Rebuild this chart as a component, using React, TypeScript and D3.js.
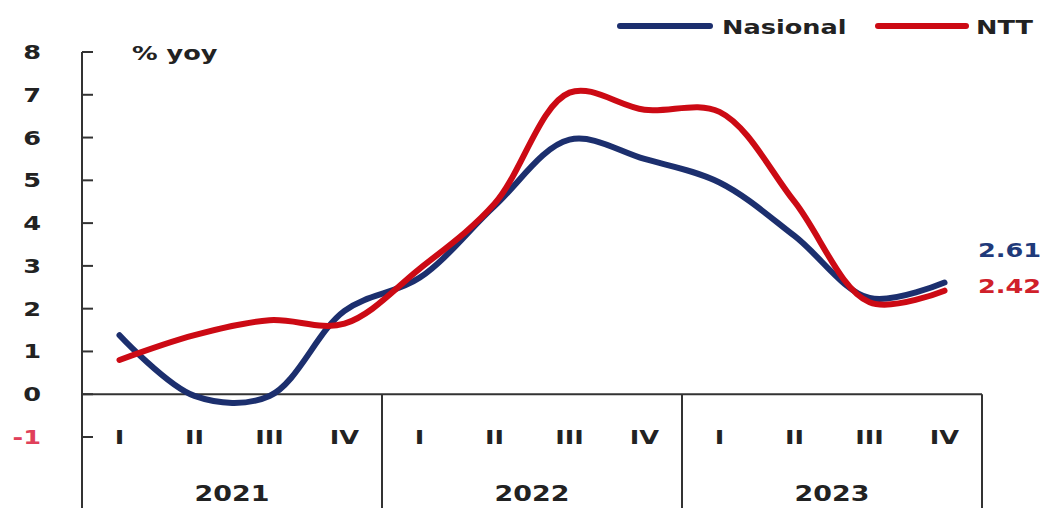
import React from 'react';
import * as d3 from 'd3';

const quarters = ['I', 'II', 'III', 'IV', 'I', 'II', 'III', 'IV', 'I', 'II', 'III', 'IV'];
const years = ['2021', '2022', '2023'];
const nasional = [1.38, -0.04, -0.04, 1.95, 2.72, 4.4, 5.95, 5.5, 4.95, 3.7, 2.25, 2.61];
const ntt = [0.8, 1.38, 1.73, 1.65, 2.93, 4.45, 7.05, 6.65, 6.6, 4.5, 2.15, 2.42];
const yTicks = [-1, 0, 1, 2, 3, 4, 5, 6, 7, 8];

const BLUE = '#1c2f6e';
const RED = '#cc0a14';
const AXIS = '#333';
const FONT = '"DejaVu Sans", Verdana, sans-serif';
const SX = 1.28;

const W = 1046;
const H = 508;

const App: React.FC = () => {
    const idx = d3.range(quarters.length).map(String);
    const x = d3.scaleBand().domain(idx).range([82, 982]);
    const y = d3.scaleLinear().domain([-1, 8]).range([437, 52]);
    const cx = (i: number) => (x(String(i)) || 0) + x.bandwidth() / 2;

    const line = d3.line<number>()
        .x((d, i) => cx(i))
        .y((d) => y(d))
        .curve(d3.curveCatmullRom.alpha(0.5));

    const txt = (
        s: string, tx: number, ty: number, anchor: string, fill = '#222', size = 20
    ) => (
        <text
            key={s + tx + ty}
            transform={`translate(${tx},${ty}) scale(${SX},1)`}
            textAnchor={anchor}
            fontFamily={FONT}
            fontWeight="bold"
            fontSize={size}
            fill={fill}
        >{s}</text>
    );

    const y0 = y(0);

    return (
        <svg width={W} height={H} style={{ position: 'absolute', left: 0, top: 0, background: '#fff' }}>
            {/* y axis */}
            <line x1={82} x2={82} y1={y(8)} y2={H} stroke={AXIS} strokeWidth={2} />
            {yTicks.map((t) => (
                <g key={t}>
                    <line x1={82} x2={93} y1={y(t)} y2={y(t)} stroke={AXIS} strokeWidth={2} />
                    {txt(String(t), 41, y(t) + 7, 'end', t < 0 ? '#e0405a' : '#222')}
                </g>
            ))}
            {txt('% yoy', 132, 60, 'start', '#222', 20)}

            {/* category axis */}
            <line x1={82} x2={982} y1={y0} y2={y0} stroke={AXIS} strokeWidth={2} />
            {[4, 8, 12].map((k) => {
                const xx = (x(String(k - 1)) || 0) + x.bandwidth();
                return <line key={k} x1={xx} x2={xx} y1={y0} y2={H} stroke={AXIS} strokeWidth={2} />;
            })}
            {quarters.map((q, i) => txt(q, cx(i), 444, 'middle'))}
            {years.map((yr, k) => {
                const mid = ((x(String(k * 4)) || 0) + (x(String(k * 4 + 3)) || 0) + x.bandwidth()) / 2;
                return txt(yr, mid, 501, 'middle', '#222', 21);
            })}

            {/* series */}
            <path d={line(nasional) || ''} fill="none" stroke={BLUE} strokeWidth={6} strokeLinecap="round" />
            <path d={line(ntt) || ''} fill="none" stroke={RED} strokeWidth={6} strokeLinecap="round" />

            {/* end labels */}
            {txt(nasional[11].toFixed(2), 978, 257, 'start', '#1f3a7a')}
            {txt(ntt[11].toFixed(2), 978, 293, 'start', '#d0202a')}

            {/* legend */}
            <line x1={620} x2={710} y1={26} y2={26} stroke={BLUE} strokeWidth={6} strokeLinecap="round" />
            {txt('Nasional', 722, 34, 'start')}
            <line x1={878} x2={966} y1={26} y2={26} stroke={RED} strokeWidth={6} strokeLinecap="round" />
            {txt('NTT', 976, 34, 'start')}
        </svg>
    );
};

export default App;
